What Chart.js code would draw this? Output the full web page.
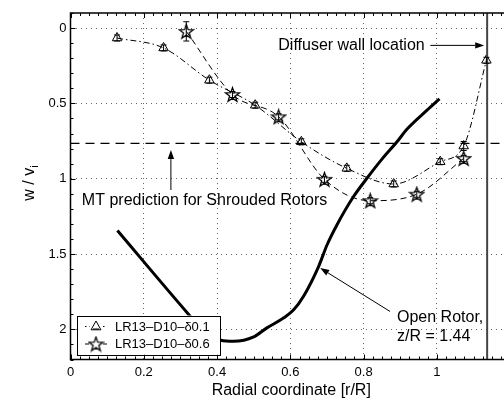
<!DOCTYPE html>
<html><head><meta charset="utf-8">
<script src="https://cdn.jsdelivr.net/npm/chart.js@4/dist/chart.umd.min.js"></script>
<style>html,body{margin:0;padding:0;background:#fff}#wrap{width:504px;height:400px}</style>
</head><body>
<div id="wrap"><canvas id="c" width="504" height="400"></canvas></div>
<script>
// ---- data ----
const xTicks = [0, 0.2, 0.4, 0.6, 0.8, 1];
const yTicks = [0, 0.5, 1, 1.5, 2];
const xMin = 0, xMax = 1.183, yMin = -0.1, yMax = 2.2;

const triX   = [0.127, 0.254, 0.379, 0.504, 0.630, 0.754, 0.882, 1.009, 1.073, 1.135];
const triY   = [0.066, 0.132, 0.346, 0.512, 0.755, 0.931, 1.035, 0.887, 0.783, 0.214];
const triErr = [0.02, 0.02, 0.02, 0.02, 0.02, 0.02, 0.02, 0.02, 0.03, 0.02];

const starX   = [0.316, 0.442, 0.568, 0.693, 0.818, 0.945, 1.073];
const starY   = [0.022, 0.441, 0.589, 1.004, 1.146, 1.103, 0.865];
const starErr = [0.064, 0.02, 0.02, 0.02, 0.02, 0.02, 0.02];

const openX = [0.128, 0.319, 0.37, 0.41, 0.445, 0.50, 0.536, 0.581, 0.609, 0.636, 0.677, 0.700, 0.727, 0.772, 0.809, 0.85, 0.891, 0.918, 0.973, 1.007];
const openY = [1.344, 1.891, 2.03, 2.072, 2.079, 2.05, 1.99, 1.925, 1.87, 1.78, 1.583, 1.44, 1.307, 1.12, 0.997, 0.87, 0.755, 0.672, 0.545, 0.47];

const mtY = 0.765;     // MT prediction for shrouded rotors
const wallX = 1.137;   // diffuser wall location

const seriesNames = ['LR13\u2013D10\u2013\u03b40.1', 'LR13\u2013D10\u2013\u03b40.6'];

// annotations (data coordinates)
const texts = [
  {lines: ['Diffuser wall location'], x: 0.567, y: 0.115},
  {lines: ['MT prediction for Shrouded Rotors'], x: 0.031, y: 1.148},
  {lines: ['Open Rotor,', 'z/R = 1.44'], x: 0.891, y: 1.925, dy: 0.121}
];
const arrows = [
  {x1: 0.982, y1: 0.115, x2: 1.129, y2: 0.115},
  {x1: 0.274, y1: 1.075, x2: 0.274, y2: 0.81},
  {x1: 0.872, y1: 1.881, x2: 0.6815, y2: 1.593}
];

const FONT = "'Liberation Sans', Arial, Helvetica, sans-serif";
const pts = (xs, ys) => xs.map((x, i) => ({x, y: ys[i]}));

// pentagram marker
function makeStar(size) {
  const c = document.createElement('canvas');
  c.width = size; c.height = size;
  const g = c.getContext('2d');
  const cx = size / 2, cy = size / 2 + 0.6, R = size / 2 - 1, r = R * 0.4;
  g.beginPath();
  for (let i = 0; i < 10; i++) {
    const rad = i % 2 === 0 ? R : r;
    const a = -Math.PI / 2 + i * Math.PI / 5;
    const px = cx + rad * Math.cos(a), py = cy + rad * Math.sin(a);
    i === 0 ? g.moveTo(px, py) : g.lineTo(px, py);
  }
  g.closePath();
  g.strokeStyle = '#000'; g.lineWidth = 1.3; g.stroke();
  return c;
}
const starImg = makeStar(17);

function drawTri(ctx, x, y, r) {
  ctx.beginPath();
  ctx.moveTo(x, y - r);
  ctx.lineTo(x + r * 0.9, y + r * 0.6);
  ctx.lineTo(x - r * 0.9, y + r * 0.6);
  ctx.closePath();
  ctx.stroke();
}

function arrow(ctx, x1, y1, x2, y2) {
  const a = Math.atan2(y2 - y1, x2 - x1), L = 9, W = 3.2;
  ctx.beginPath(); ctx.moveTo(x1, y1);
  ctx.lineTo(x2 - L * Math.cos(a), y2 - L * Math.sin(a)); ctx.stroke();
  ctx.beginPath();
  ctx.moveTo(x2, y2);
  ctx.lineTo(x2 - L * Math.cos(a) + W * Math.sin(a), y2 - L * Math.sin(a) - W * Math.cos(a));
  ctx.lineTo(x2 - L * Math.cos(a) - W * Math.sin(a), y2 - L * Math.sin(a) + W * Math.cos(a));
  ctx.closePath(); ctx.fill();
}

const decor = {
  id: 'decor',
  afterDatasetsDraw(chart) {
    const {ctx, chartArea: ca, scales: {x, y}} = chart;
    ctx.save();
    // error bars
    chart.data.datasets.forEach((ds, di) => {
      if (!ds.errors) return;
      const meta = chart.getDatasetMeta(di);
      meta.data.forEach((p, i) => {
        const e = ds.errors[i];
        const v = ds.data[i].y;
        const ya = y.getPixelForValue(v - e), yb = y.getPixelForValue(v + e);
        ctx.strokeStyle = '#000'; ctx.lineWidth = 1; ctx.setLineDash([]);
        ctx.beginPath();
        ctx.moveTo(p.x, ya); ctx.lineTo(p.x, yb);
        ctx.moveTo(p.x - 3, ya); ctx.lineTo(p.x + 3, ya);
        ctx.moveTo(p.x - 3, yb); ctx.lineTo(p.x + 3, yb);
        ctx.stroke();
      });
    });
    // frame
    ctx.strokeStyle = '#000'; ctx.lineWidth = 1.5; ctx.setLineDash([]);
    ctx.beginPath();
    ctx.moveTo(ca.right + 1, ca.top); ctx.lineTo(ca.left, ca.top);
    ctx.lineTo(ca.left, ca.bottom); ctx.lineTo(ca.right + 1, ca.bottom);
    ctx.stroke();
    // ticks (inward)
    ctx.lineWidth = 1;
    ctx.beginPath();
    for (let k = 0; k * 0.025 <= xMax + 1e-9; k++) {
      const v = k * 0.025, px = Math.round(x.getPixelForValue(v)) + 0.5;
      const L = (k % 8 === 0) ? 5 : 3;
      ctx.moveTo(px, ca.bottom); ctx.lineTo(px, ca.bottom - L);
      ctx.moveTo(px, ca.top); ctx.lineTo(px, ca.top + L);
    }
    for (let k = -1; k * 0.1 <= yMax + 1e-9; k++) {
      const v = k * 0.1, py = Math.round(y.getPixelForValue(v)) + 0.5;
      const L = (k % 5 === 0) ? 5 : 3;
      ctx.moveTo(ca.left, py); ctx.lineTo(ca.left + L, py);
    }
    ctx.stroke();
    // annotations
    ctx.fillStyle = '#000'; ctx.strokeStyle = '#000'; ctx.lineWidth = 1;
    ctx.font = '16px ' + FONT; ctx.textBaseline = 'middle'; ctx.textAlign = 'left';
    texts.forEach(t => {
      t.lines.forEach((s, i) => {
        const yy = y.getPixelForValue(t.y + (t.dy || 0) * i);
        ctx.fillText(s, x.getPixelForValue(t.x), yy);
      });
    });
    arrows.forEach(a => arrow(ctx, x.getPixelForValue(a.x1), y.getPixelForValue(a.y1),
                                   x.getPixelForValue(a.x2), y.getPixelForValue(a.y2)));
    // legend
    const lx = ca.left + 6.5, lw = 143, lh = 39, ly = ca.bottom - 5 - lh;
    ctx.fillStyle = '#fff'; ctx.fillRect(lx, ly, lw, lh);
    ctx.strokeStyle = '#000'; ctx.lineWidth = 1;
    ctx.strokeRect(Math.round(lx) + 0.5, Math.round(ly) + 0.5, lw, lh);
    const r1 = ly + 11, r2 = ly + 28.5;
    ctx.setLineDash([1.5, 3]);
    ctx.beginPath(); ctx.moveTo(lx + 8, r1); ctx.lineTo(lx + 30, r1); ctx.stroke();
    ctx.setLineDash([]);
    ctx.beginPath(); ctx.moveTo(lx + 8, r2); ctx.lineTo(lx + 30, r2); ctx.stroke();
    ctx.fillStyle = '#fff'; ctx.fillRect(lx + 13, r1 - 6, 12, 11);
    drawTri(ctx, lx + 19, r1, 5.5);
    ctx.beginPath(); ctx.moveTo(lx + 16, r1 + 2.5); ctx.lineTo(lx + 22, r1 + 2.5); ctx.stroke();
    ctx.fillRect(lx + 12, r2 - 7, 14, 14);
    ctx.drawImage(starImg, lx + 19 - 8.5, r2 - 8.5);
    ctx.fillStyle = '#000'; ctx.font = '13px ' + FONT;
    ctx.fillText(seriesNames[0], lx + 38, r1 + 0.5);
    ctx.fillText(seriesNames[1], lx + 38, r2 + 0.5);
    // axis titles
    ctx.font = '16px ' + FONT; ctx.textAlign = 'center'; ctx.textBaseline = 'middle';
    ctx.fillText('Radial coordinate [r/R]', (ca.left + ca.right) / 2 + 4, ca.bottom + 31);
    ctx.save();
    ctx.translate(34, 183); ctx.rotate(-Math.PI / 2);
    ctx.textAlign = 'left'; ctx.textBaseline = 'alphabetic';
    const main = 'w / v';
    ctx.font = '16px ' + FONT;
    const w1 = ctx.measureText(main).width;
    ctx.font = '11px ' + FONT;
    const w2 = ctx.measureText('i').width;
    const x0 = -(w1 + w2) / 2;
    ctx.font = '16px ' + FONT; ctx.fillText(main, x0, 0);
    ctx.font = '11px ' + FONT; ctx.fillText('i', x0 + w1, 4);
    ctx.restore();
    ctx.restore();
  }
};

new Chart(document.getElementById('c'), {
  type: 'scatter',
  data: {
    datasets: [
      {label: 'MT', data: [{x: xMin, y: mtY}, {x: xMax, y: mtY}], showLine: true,
       borderColor: '#000', borderWidth: 1.2, borderDash: [9, 6], pointRadius: 0},
      {label: 'wall', data: [{x: wallX, y: yMin}, {x: wallX, y: yMax}], showLine: true,
       borderColor: '#444', borderWidth: 2, pointRadius: 0},
      {label: 'open', data: pts(openX, openY), showLine: true, cubicInterpolationMode: 'monotone',
       borderColor: '#000', borderWidth: 3, pointRadius: 0},
      {label: seriesNames[0], data: pts(triX, triY), errors: triErr, showLine: true,
       cubicInterpolationMode: 'monotone', borderColor: '#000', borderWidth: 1,
       borderDash: [6, 3, 1.5, 3], pointStyle: 'triangle', pointRadius: 5.5,
       pointBorderColor: '#000', pointBackgroundColor: 'rgba(255,255,255,0)', pointBorderWidth: 1},
      {label: seriesNames[1], data: pts(starX, starY), errors: starErr, showLine: true,
       cubicInterpolationMode: 'monotone', borderColor: '#000', borderWidth: 1,
       borderDash: [6, 4], pointStyle: starImg, pointRadius: 8}
    ]
  },
  options: {
    responsive: false, animation: false, devicePixelRatio: 1,
    layout: {autoPadding: false, padding: {top: 13, right: 0, left: 0, bottom: 0}},
    plugins: {legend: {display: false}, tooltip: {enabled: false}},
    scales: {
      x: {
        type: 'linear', min: xMin, max: xMax,
        afterBuildTicks: s => { s.ticks = xTicks.map(v => ({value: v})); },
        afterFit: s => { s.height = 40.5; s.paddingRight = 0; s.paddingLeft = 0; },
        grid: {color: '#666', lineWidth: 1, drawTicks: false},
        border: {display: false, dash: [1, 4]},
        ticks: {padding: 5, color: '#000', font: {size: 13, family: FONT}, maxRotation: 0,
                callback: v => String(v)}
      },
      y: {
        type: 'linear', min: yMin, max: yMax, reverse: true,
        afterBuildTicks: s => { s.ticks = yTicks.map(v => ({value: v})); },
        afterFit: s => { s.width = 70.5; s.paddingTop = 0; s.paddingBottom = 0; },
        grid: {color: '#666', lineWidth: 1, drawTicks: false},
        border: {display: false, dash: [1, 4]},
        ticks: {padding: 4, color: '#000', font: {size: 13, family: FONT},
                callback: v => String(v)}
      }
    }
  },
  plugins: [decor]
});
</script>
</body></html>
